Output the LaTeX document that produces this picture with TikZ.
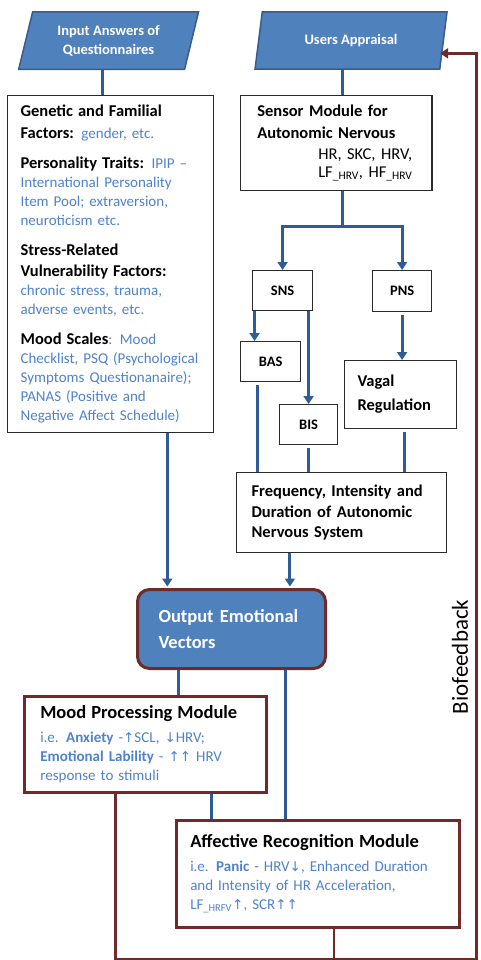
\documentclass[tikz,border=0pt]{standalone}
\usepackage{fontspec}
\setmainfont{Carlito}
\newfontfamily\arrowfont{DejaVu Sans}
\usetikzlibrary{shapes.geometric, arrows.meta, positioning}

\definecolor{shapefill}{HTML}{4F81BD}
\definecolor{shapeline}{HTML}{385D8A}
\definecolor{flowblue}{HTML}{2D5C96}
\definecolor{fbred}{HTML}{6E2B29}
\definecolor{txtblue}{HTML}{4F82CC}
\definecolor{boxline}{HTML}{2B2B2B}

\newcommand{\headtxt}[1]{{\fontsize{16.5}{19}\selectfont\bfseries\color{black}#1}}
\newcommand{\titletxt}[1]{{\fontsize{18.5}{19}\selectfont\bfseries\color{black}#1}}
\newcommand{\uarr}{{\arrowfont\fontsize{13.5}{13.5}\selectfont\char"2191}}
\newcommand{\darr}{{\arrowfont\fontsize{13.5}{13.5}\selectfont\char"2193}}

\begin{document}
\begin{tikzpicture}[x=1pt, y=-1pt,
    iobox/.style={trapezium, trapezium left angle=73, trapezium right angle=107,
        trapezium stretches=true, draw=shapeline, line width=1.5pt, fill=shapefill,
        text=white, font=\fontsize{14.5}{19}\selectfont\bfseries, align=center, inner sep=0pt},
    infobox/.style={draw=boxline, line width=1.2pt, fill=white, align=left,
        anchor=north west, inner ysep=2pt, font=\fontsize{15}{19}\selectfont},
    tagbox/.style={draw=boxline, line width=1.2pt, fill=white, anchor=north west,
        inner sep=0pt, font=\fontsize{14.5}{18}\selectfont\bfseries},
    modbox/.style={draw=fbred, line width=2.5pt, fill=white, align=left, text=txtblue,
        anchor=north west, inner ysep=2pt, font=\fontsize{15}{19}\selectfont},
    outbox/.style={draw=fbred, line width=3pt, fill=shapefill, rounded corners=12pt,
        text=white, align=left, anchor=north west, inner ysep=2pt,
        font=\fontsize{18.5}{26}\selectfont\bfseries},
    flow/.style={draw=flowblue, line width=3pt},
    flowarr/.style={flow, -{Triangle[length=8pt, width=10pt]}},
    fback/.style={draw=fbred, line width=2.5pt}
]
\useasboundingbox (0,0) rectangle (480,960);

% Inputs
\node[iobox, minimum width=180pt, minimum height=57.6pt] (inans) at (108.6,40.6)
    {Input Answers of\\Questionnaires};
\node[iobox, minimum width=193pt, minimum height=57.3pt] (usrapp) at (351,40.6)
    {Users Appraisal};

% Questionnaire factors
\node[infobox, text=txtblue, text width=180pt, inner xsep=13pt, minimum height=337pt] (factors) at (7,95) {%
    \headtxt{Genetic and Familial}\\[2.5pt]
    \headtxt{Factors:} gender, etc.\\[11pt]
    \headtxt{Personality Traits:} IPIP --\\
    International Personality\\
    Item Pool; extraversion,\\
    neuroticism etc.\\[11pt]
    \headtxt{Stress-Related}\\[2.5pt]
    \headtxt{Vulnerability Factors:}\\
    chronic stress, trauma,\\
    adverse events, etc.\\[11pt]
    \headtxt{Mood Scales}: Mood\\
    Checklist, PSQ (Psychological\\
    Symptoms Questionanaire);\\
    PANAS (Positive and\\
    Negative Affect Schedule)};

% Sensor branch
\node[infobox, font=\fontsize{16.5}{21.5}\selectfont, text width=158pt, inner xsep=16.7pt, minimum height=95pt] (sensor) at (240,95) {%
    \textbf{Sensor Module for}\\
    \textbf{Autonomic Nervous}\\
    \hspace*{61pt}HR, SKC, HRV,\\[-4pt]
    \hspace*{61pt}LF\textsubscript{\_HRV}, HF\textsubscript{\_HRV}};
\node[tagbox, minimum width=60pt, minimum height=40pt] (sns) at (252,270) {SNS};
\node[tagbox, minimum width=59pt, minimum height=41pt] (pns) at (372,270) {PNS};
\node[tagbox, minimum width=60pt, minimum height=40pt] (bas) at (240,341) {BAS};
\node[tagbox, minimum width=58pt, minimum height=40pt] (bis) at (279,404) {BIS};
\node[infobox, font=\fontsize{16.5}{24}\selectfont\bfseries, text width=86pt, inner xsep=13pt, minimum height=68pt] (vagal) at (344,360)
    {Vagal\\Regulation};
\node[infobox, font=\fontsize{16.5}{20.5}\selectfont\bfseries, text width=180pt, inner xsep=15pt, minimum height=80pt] (freq) at (236,472)
    {Frequency, Intensity and\\Duration of Autonomic\\Nervous System};

% Output and modules
\node[outbox, text width=146pt, inner xsep=21pt, minimum height=79pt] (outvec) at (136,588)
    {Output Emotional\\Vectors};
\node[modbox, text width=210pt, inner xsep=16pt, minimum height=96pt] (mood) at (23,695) {%
    \titletxt{Mood Processing Module}\\[5pt]
    i.e. \textbf{Anxiety} -\uarr SCL, \darr HRV;\\
    \textbf{Emotional Lability} - \uarr\uarr{} HRV\\
    response to stimuli};
\node[modbox, text width=255pt, inner xsep=14pt, minimum height=107pt] (affect) at (175,819) {%
    \titletxt{Affective Recognition Module}\\[5pt]
    i.e. \textbf{Panic} - HRV\darr, Enhanced Duration\\
    and Intensity of HR Acceleration,\\
    LF\textsubscript{\_HRFV}\uarr, SCR\uarr\uarr};
\node[rotate=90, font=\fontsize{23}{23}\selectfont] (biofb) at (460,657) {Biofeedback};

% Connectors
\draw[flow] ([xshift=-6pt]inans.south) -- ([xshift=-6pt]inans.south |- factors.north);
\draw[flow] ([xshift=-9pt]usrapp.south) -- ([xshift=-9pt]usrapp.south |- sensor.north);
\draw[flow] ([xshift=6pt]sensor.south) -- ++(0,35) coordinate (split);
\draw[flowarr] (split) -| (sns.north);
\draw[flowarr] (split) -| (pns.north);
\draw[flowarr] ([xshift=-28pt]sns.south) -- ([xshift=-28pt]sns.south |- bas.north);
\draw[flowarr] ([xshift=26pt]sns.south) -- ([xshift=26pt]sns.south |- bis.north);
\draw[flowarr] ([yshift=-3pt]pns.south) -- (pns.south |- vagal.north);
\draw[flow] ([xshift=-13pt,yshift=-3pt]bas.south) -- ([xshift=-13pt]bas.south |- freq.north);
\draw[flow] ([yshift=-3pt]bis.south) -- (bis.south |- freq.north);
\draw[flow] ([xshift=4pt,yshift=-3pt]vagal.south) -- ([xshift=4pt]vagal.south |- freq.north);
\draw[flowarr] ([xshift=-51.7pt]freq.south) -- ([xshift=-51.7pt,yshift=1.5pt]freq.south |- outvec.north);
\draw[flowarr] ([xshift=56.7pt]factors.south) -- ([xshift=56.7pt,yshift=1.5pt]factors.south |- outvec.north);
\draw[flow] ([xshift=-53.3pt]outvec.south) -- ([xshift=-53.3pt]outvec.south |- mood.north);
\draw[flow] ([xshift=54pt]outvec.south) -- ([xshift=54pt]outvec.south |- affect.north);
\draw[flow] ([xshift=66.7pt]mood.south) -- ([xshift=66.7pt]mood.south |- affect.north);

% Biofeedback loop
\coordinate (fbcorner) at (476.5,959.5);
\coordinate (fbtip) at ([xshift=-4pt,yshift=-12.7pt]usrapp.east);
\draw[fback] ([xshift=16pt]affect.south) -- ([xshift=16pt]affect.south |- fbcorner);
\draw[fback, -{Triangle[length=8pt, width=10pt]}] ([xshift=-29.7pt]mood.south) |- (fbcorner)
    -- (fbcorner |- fbtip) -- (fbtip);

\end{tikzpicture}
\end{document}
